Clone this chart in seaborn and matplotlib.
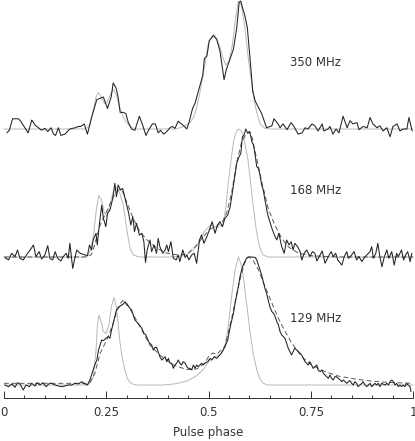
import numpy as np
import matplotlib
matplotlib.use("Agg")
import matplotlib.pyplot as plt
from matplotlib.ticker import MultipleLocator
import seaborn as sns

# observed profiles (phase, amplitude in % of peak)
phase_350 = [0.007, 0.013, 0.021, 0.035, 0.040, 0.051, 0.059, 0.068, 0.076, 0.084,
             0.092, 0.100, 0.107, 0.115, 0.121, 0.126, 0.133, 0.139, 0.149, 0.161,
             0.174, 0.182, 0.188, 0.196, 0.204, 0.214, 0.227, 0.235, 0.243, 0.253,
             0.262, 0.267, 0.274, 0.279, 0.284, 0.292, 0.298, 0.304, 0.312, 0.320,
             0.331, 0.339, 0.347, 0.355, 0.363, 0.370, 0.377, 0.383, 0.390, 0.398,
             0.406, 0.412, 0.418, 0.426, 0.434, 0.441, 0.447, 0.453, 0.461, 0.467,
             0.473, 0.479, 0.486, 0.490, 0.496, 0.502, 0.512, 0.520, 0.528, 0.538,
             0.544, 0.553, 0.561, 0.569, 0.575, 0.579, 0.583, 0.589, 0.595, 0.601,
             0.608, 0.614, 0.622, 0.630, 0.636, 0.642, 0.655, 0.660, 0.670, 0.675,
             0.682, 0.692, 0.702, 0.709, 0.719, 0.729, 0.736, 0.743, 0.753, 0.760,
             0.768, 0.778, 0.782, 0.792, 0.797, 0.804, 0.812, 0.819, 0.829, 0.839,
             0.846, 0.853, 0.863, 0.868, 0.878, 0.888, 0.895, 0.902, 0.912, 0.919,
             0.927, 0.936, 0.944, 0.951, 0.961, 0.968, 0.976, 0.985, 0.990, 0.998]
amp_350 = [-3, -1, 8, 8, 6.5, 1, -3, 7, 3, 1,
           -1, 0.5, -2, 1, -4, -5, 1, -5, -4, 0,
           1, 2, 2, 4, -4, 9, 23, 24, 25, 16,
           25, 36, 32, 25, 13, 13, 12, 5, 0, -1,
           10, 3, -5, 0, 4, 4, -3, -1, -4, -2,
           1, 2, 0.5, 6, 4, 2, 0, 6, 16, 20,
           27, 34, 42, 55, 57, 69, 73, 70, 61, 38.5,
           47, 55, 62.5, 79, 99, 100, 95, 88.5, 79, 57,
           30, 22, 17, 12, 6.5, 1, 2.5, 8, 4, 1,
           4, -0.5, 5, 2, -4, -3, 1, 0, 4, 2.5,
           -1.5, 4, -1.5, 0, 2, -4, 0, -3, 10, 1,
           6.5, 4, 5, -0.5, 2, 1, 9, 4, 1, 2.5,
           -1.5, 1, -6, 2, 4, -1.5, 0, 0, 9, -1.5]

phase_168 = [0.002, 0.011, 0.019, 0.027, 0.033, 0.039, 0.047, 0.055, 0.064, 0.072,
             0.078, 0.086, 0.092, 0.100, 0.107, 0.112, 0.119, 0.125, 0.131, 0.139,
             0.145, 0.152, 0.157, 0.161, 0.168, 0.174, 0.178, 0.186, 0.198, 0.204,
             0.209, 0.214, 0.218, 0.225, 0.228, 0.233, 0.239, 0.243, 0.249, 0.253,
             0.259, 0.266, 0.271, 0.275, 0.279, 0.285, 0.290, 0.296, 0.300, 0.304,
             0.310, 0.315, 0.319, 0.324, 0.331, 0.337, 0.342, 0.346, 0.350, 0.357,
             0.361, 0.367, 0.373, 0.377, 0.381, 0.388, 0.394, 0.398, 0.402, 0.408,
             0.414, 0.421, 0.426, 0.430, 0.437, 0.443, 0.447, 0.452, 0.459, 0.465,
             0.471, 0.478, 0.483, 0.489, 0.496, 0.502, 0.509, 0.516, 0.522, 0.528,
             0.534, 0.540, 0.547, 0.553, 0.558, 0.563, 0.569, 0.573, 0.579, 0.583,
             0.587, 0.591, 0.596, 0.601, 0.606, 0.610, 0.614, 0.618, 0.622, 0.626,
             0.630, 0.634, 0.638, 0.645, 0.650, 0.655, 0.661, 0.667, 0.672, 0.679,
             0.685, 0.691, 0.697, 0.702, 0.707, 0.711, 0.718, 0.724, 0.728, 0.734,
             0.740, 0.748, 0.754, 0.760, 0.765, 0.773, 0.778, 0.785, 0.793, 0.800,
             0.805, 0.811, 0.816, 0.826, 0.832, 0.838, 0.842, 0.850, 0.856, 0.862,
             0.868, 0.875, 0.883, 0.891, 0.895, 0.899, 0.903, 0.909, 0.914, 0.919,
             0.924, 0.930, 0.936, 0.941, 0.948, 0.954, 0.960, 0.964, 0.972, 0.977,
             0.982, 0.987, 0.993, 0.997]
amp_168 = [-0.5, -2.3, 2.9, 0.3, 5.5, -1, -2.3, 1.6, 5.5, 9.4,
           0.3, 4.2, -1.6, 1.6, 8.9, -1, -2.3, 4.2, -1, -3.1,
           0.3, 2.9, -1, 10.7, -8.9, 0.3, 5.5, 2.9, 1.6, 1,
           9.4, 5.5, 13.3, 18.5, 9.4, 25, 40.6, 30.2, 23.7, 34.1,
           36.7, 45.8, 57.6, 47.1, 56.3, 52.3, 53.6, 45.8, 40.6, 35.4,
           25, 31.5, 19.8, 26.3, 17.2, 18.5, 12, -4.2, 5.5, 13.3,
           4.2, 9.4, 2.9, 14.6, 8.1, 2.9, 5.5, 9.4, 4.2, 12,
           -1, -2.3, 1.6, -3.6, 5.5, -0.5, 1.6, -2.3, 1.6, 2.9,
           -4.9, 13.3, 17.2, 10.7, 15.9, 21.1, 27.6, 18.5, 25, 27.6,
           23.7, 30.2, 32.8, 39.3, 49.7, 60.2, 73.2, 77.1, 81, 94,
           95.3, 100, 96.6, 98, 90, 87.5, 79.7, 70.6, 69.3, 64,
           56.3, 52.3, 44.5, 32.8, 27.6, 22.4, 17.2, 13.3, 18.5, 8.1,
           2.9, 13.3, 9.4, 12, 5.5, 10.7, 8.1, 4.2, -2.3, 2.9,
           5.5, 0.3, 4.2, 2.9, -3.1, 1.6, 4.7, -4.9, 0.3, 4.2,
           0.3, 2.9, -2.3, -6.3, 0.3, 4.2, -1, 1.6, 4.2, -2.3,
           0.3, -3.6, 0.3, 2.9, 4.2, 8.1, -1, 2.9, 10.7, 0.3,
           -7.6, 0.3, 5.5, -1, 4.2, -6.3, 2.9, 0.3, 5.5, -2.3,
           1.6, 4.2, -3.6, 2.9]

phase_129 = [0.002, 0.011, 0.019, 0.027, 0.033, 0.039, 0.047, 0.054, 0.062, 0.068,
             0.076, 0.081, 0.088, 0.095, 0.103, 0.111, 0.116, 0.125, 0.133, 0.141,
             0.149, 0.157, 0.165, 0.174, 0.182, 0.190, 0.198, 0.204, 0.210, 0.214,
             0.218, 0.222, 0.227, 0.231, 0.235, 0.239, 0.243, 0.249, 0.255, 0.259,
             0.263, 0.267, 0.271, 0.275, 0.279, 0.284, 0.288, 0.292, 0.296, 0.300,
             0.304, 0.308, 0.312, 0.316, 0.320, 0.324, 0.331, 0.337, 0.342, 0.347,
             0.350, 0.355, 0.361, 0.365, 0.369, 0.373, 0.377, 0.381, 0.386, 0.390,
             0.394, 0.398, 0.402, 0.406, 0.410, 0.414, 0.418, 0.422, 0.426, 0.430,
             0.434, 0.438, 0.443, 0.447, 0.451, 0.455, 0.459, 0.463, 0.467, 0.471,
             0.475, 0.479, 0.483, 0.487, 0.491, 0.498, 0.504, 0.508, 0.514, 0.520,
             0.524, 0.531, 0.536, 0.542, 0.547, 0.550, 0.555, 0.561, 0.565, 0.569,
             0.573, 0.577, 0.581, 0.585, 0.589, 0.593, 0.597, 0.606, 0.614, 0.618,
             0.622, 0.626, 0.630, 0.634, 0.638, 0.642, 0.646, 0.650, 0.655, 0.659,
             0.663, 0.667, 0.671, 0.675, 0.679, 0.683, 0.687, 0.691, 0.695, 0.699,
             0.703, 0.707, 0.711, 0.716, 0.720, 0.724, 0.728, 0.732, 0.736, 0.740,
             0.744, 0.748, 0.752, 0.756, 0.760, 0.765, 0.768, 0.773, 0.777, 0.781,
             0.785, 0.789, 0.793, 0.797, 0.801, 0.805, 0.809, 0.813, 0.817, 0.822,
             0.826, 0.830, 0.834, 0.838, 0.842, 0.846, 0.850, 0.854, 0.858, 0.862,
             0.866, 0.870, 0.875, 0.878, 0.883, 0.887, 0.891, 0.895, 0.899, 0.903,
             0.907, 0.911, 0.915, 0.919, 0.923, 0.932, 0.936, 0.940, 0.944, 0.948,
             0.952, 0.956, 0.960, 0.964, 0.968, 0.972, 0.976, 0.980, 0.984, 0.988,
             0.993, 0.995]
amp_129 = [0, -1.3, 0.8, -1.8, 1.8, 0.8, -3.9, 0, -1.3, 1.3,
           -0.8, 1.8, 0, 1.8, -1.3, 1.3, 1.3, 0, -0.8, -1.3,
           -0.8, 0, 0, 1.3, 0.8, 2.6, 0.8, 0, 3.9, 7.8,
           11.7, 15.6, 19.5, 27.3, 31.3, 35.2, 34.6, 36.5, 37.8, 36.5,
           43, 48.2, 53.4, 58.6, 59.9, 61.7, 62.5, 63.3, 65.1, 62.5,
           61.7, 59.9, 58.6, 54.7, 50.8, 49.5, 46.9, 44.3, 40.4, 39.1,
           36.5, 33.1, 31.3, 27.3, 29.4, 29.4, 26, 22.1, 19.5, 20.8,
           22.1, 18.2, 20.8, 17, 17, 13, 15.6, 17, 19.5, 17,
           15.6, 18.2, 17, 14.3, 13, 13, 11.7, 15.6, 13, 15.6,
           14.3, 15.6, 17, 15.6, 17, 18.2, 20.8, 19.5, 22.1, 20.8,
           22.1, 24.7, 27.3, 31.3, 35.2, 40.4, 48.2, 56, 63.8, 70.3,
           76.8, 84.6, 89.8, 93.8, 96.4, 99, 100, 100, 99.7, 97.7,
           93.8, 89.8, 85.9, 80.7, 75.5, 71.6, 66.4, 61.2, 57.3, 56,
           53.4, 49.5, 46.9, 41.7, 39.1, 37.8, 36.5, 32.6, 28.7, 26,
           23.4, 26, 28.7, 27.3, 26, 24.7, 23.4, 20.8, 18.2, 17,
           15.6, 18.2, 15.6, 13, 14.3, 15.6, 11.7, 10.4, 11.7, 9.1,
           7.8, 6.5, 5.2, 7.8, 5.2, 3.9, 6.5, 6.5, 5.2, 3.9,
           2.6, 3.9, 2.6, 1.3, 2.6, 3.4, 1.3, 0, 2.6, 1.3,
           -1.3, 0, 1.3, 2.6, 0, -1.3, 0, 1.3, -1.3, 0,
           1.3, 0, 1.3, -1.3, 1.3, 0, 1.3, 0, 2.6, 3.9,
           2.6, 0, 1.3, -1.3, 0, -1.3, 0, -1.3, 1.3, 0,
           -1.3, -5.2]

# intrinsic (unscattered) template, grey
tmpl_phase_350 = [0.0, 0.20, 0.21, 0.218, 0.225, 0.231, 0.238, 0.245, 0.252, 0.26,
                  0.267, 0.274, 0.284, 0.292, 0.300, 0.312, 0.325, 0.42, 0.44, 0.455,
                  0.465, 0.472, 0.48, 0.49, 0.50, 0.512, 0.52, 0.528, 0.535, 0.542,
                  0.55, 0.558, 0.565, 0.573, 0.58, 0.588, 0.597, 0.606, 0.612, 0.618,
                  0.626, 0.638, 0.65, 1.0]
tmpl_amp_350 = [0, 0, 3, 14, 25, 28.5, 25, 20, 21, 27,
                31, 27, 15.6, 9, 5, 1, 0, 0, 2, 5,
                10, 18, 30, 48, 68, 74, 71, 64, 56, 50,
                53, 65, 84, 100, 97, 82, 56, 35, 22, 13,
                4, 0.5, 0, 0]

tmpl_phase_168 = [0.0, 0.195, 0.205, 0.213, 0.22, 0.226, 0.232, 0.238, 0.245, 0.252,
                  0.26, 0.268, 0.275, 0.283, 0.292, 0.30, 0.308, 0.316, 0.33, 0.40,
                  0.43, 0.447, 0.47, 0.49, 0.505, 0.52, 0.536, 0.542, 0.548, 0.555,
                  0.561, 0.567, 0.573, 0.579, 0.585, 0.596, 0.603, 0.610, 0.616, 0.622,
                  0.628, 0.634, 0.645, 1.0]
tmpl_amp_168 = [0, 0, 1, 6, 20, 38, 48, 45, 35, 32,
                42, 52, 54, 50, 40, 22, 7, 1.6, 0, 0,
                0.5, 1.6, 8, 20, 25, 23, 25, 38, 57, 75,
                90, 97, 100, 99, 95, 77, 58, 38, 23, 12,
                5, 1.6, 0, 0]

tmpl_phase_129 = [0.0, 0.205, 0.212, 0.218, 0.225, 0.228, 0.232, 0.237, 0.243, 0.249,
                  0.256, 0.263, 0.269, 0.274, 0.279, 0.284, 0.29, 0.296, 0.302, 0.308,
                  0.316, 0.324, 0.39, 0.42, 0.447, 0.47, 0.487, 0.50, 0.515, 0.53,
                  0.54, 0.548, 0.556, 0.565, 0.573, 0.579, 0.585, 0.593, 0.601, 0.609,
                  0.618, 0.625, 0.632, 0.642, 1.0]
tmpl_amp_129 = [0, 0, 2, 6.5, 27, 45, 54.7, 50, 42, 40,
                46, 62, 68.5, 62, 48, 32, 20, 11, 5, 2,
                0.6, 0, 0, 1, 3, 7, 12, 18, 22, 24,
                30, 45, 68, 90, 100, 95, 85, 64, 43, 25,
                12, 5, 2, 0, 0]

# scattered model fits, dashed
fit_phase_168 = [0.0, 0.205, 0.214, 0.222, 0.235, 0.253, 0.267, 0.279, 0.285, 0.292,
                 0.300, 0.316, 0.332, 0.349, 0.373, 0.398, 0.43, 0.45, 0.47, 0.49,
                 0.505, 0.52, 0.535, 0.545, 0.557, 0.569, 0.581, 0.594, 0.600, 0.607,
                 0.614, 0.622, 0.630, 0.646, 0.662, 0.679, 0.695, 0.720, 0.752, 0.817,
                 1.0]
fit_amp_168 = [0, 0, 2, 10, 25, 37, 47, 52, 53, 50,
               43, 30, 20, 13.5, 7, 3, 1.3, 3, 9, 17,
               22, 24, 28, 35, 51, 74, 90, 97, 98, 93,
               82, 71, 59, 38, 25, 14.6, 8, 3, 1, 0,
               0]

fit_phase_129 = [0.0, 0.20, 0.21, 0.222, 0.235, 0.253, 0.267, 0.279, 0.29, 0.30,
                 0.316, 0.337, 0.357, 0.381, 0.414, 0.447, 0.471, 0.49, 0.50, 0.51,
                 0.52, 0.54, 0.556, 0.573, 0.585, 0.593, 0.60, 0.61, 0.622, 0.638,
                 0.655, 0.671, 0.687, 0.703, 0.728, 0.752, 0.785, 0.817, 0.858, 0.899,
                 0.94, 1.0]
fit_amp_129 = [1.3, 1.3, 2, 8.9, 24.7, 36.5, 48.2, 61, 66, 64,
               55, 43, 31, 23.4, 15.6, 12, 12.5, 17, 22, 25,
               24, 30, 51, 77, 92, 99, 100, 97, 90, 77,
               64, 52, 42, 33, 22, 15.6, 10.4, 7, 4.7, 3,
               2, 1.3]

freq_labels = ["350 MHz", "168 MHz", "129 MHz"]

sns.set_style("ticks")
plt.rcParams["font.family"] = ["DejaVu Sans"]

fig = plt.figure(figsize=(4.15, 4.41), dpi=100)
ax = fig.add_axes([4 / 415, 43 / 441, 409 / 415, 398 / 441])

black = "#222222"
grey = "#b8b8b8"
dash_col = "#5a5a5a"
text_col = "#333333"

profiles = [
    (2, phase_350, amp_350, tmpl_phase_350, tmpl_amp_350, None, None),
    (1, phase_168, amp_168, tmpl_phase_168, tmpl_amp_168, fit_phase_168, fit_amp_168),
    (0, phase_129, amp_129, tmpl_phase_129, tmpl_amp_129, fit_phase_129, fit_amp_129),
]

for (off, ph, am, tph, tam, fph, fam), lab in zip(profiles, freq_labels):
    sns.lineplot(x=tph, y=off + np.array(tam) / 100, ax=ax, color=grey,
                 linewidth=0.7, estimator=None, sort=False, clip_on=False)
    if fph is not None:
        sns.lineplot(x=fph, y=off + np.array(fam) / 100, ax=ax, color=dash_col,
                     linewidth=0.7, linestyle=(0, (5, 3)), estimator=None,
                     sort=False, clip_on=False)
    sns.lineplot(x=ph, y=off + np.array(am) / 100, ax=ax, color=black,
                 linewidth=0.75, estimator=None, sort=False, clip_on=False)
    ax.text(0.70, off + 0.52, lab, fontsize=8.5, ha="left", va="center",
            color=text_col)

ax.set_xlim(0, 1)
ax.set_ylim(-0.1016, 3.008)
ax.xaxis.set_minor_locator(MultipleLocator(0.05))
ax.set_xticks([0, 0.25, 0.5, 0.75, 1])
ax.set_xticklabels(["0", "0.25", "0.5", "0.75", "1"])
ax.tick_params(axis="x", which="major", direction="in", length=5, width=0.7,
               pad=6, labelsize=8.5, colors=text_col)
ax.tick_params(axis="x", which="minor", direction="in", length=2.5, width=0.7,
               colors=text_col)
ax.set_yticks([])
ax.set_ylabel("")
ax.set_xlabel("Pulse phase", fontsize=8.5, labelpad=5, color=text_col)
sns.despine(ax=ax, left=True, top=True, right=True)
ax.spines["bottom"].set_linewidth(0.7)
ax.spines["bottom"].set_color(text_col)

fig.savefig("out.png", dpi=100)
